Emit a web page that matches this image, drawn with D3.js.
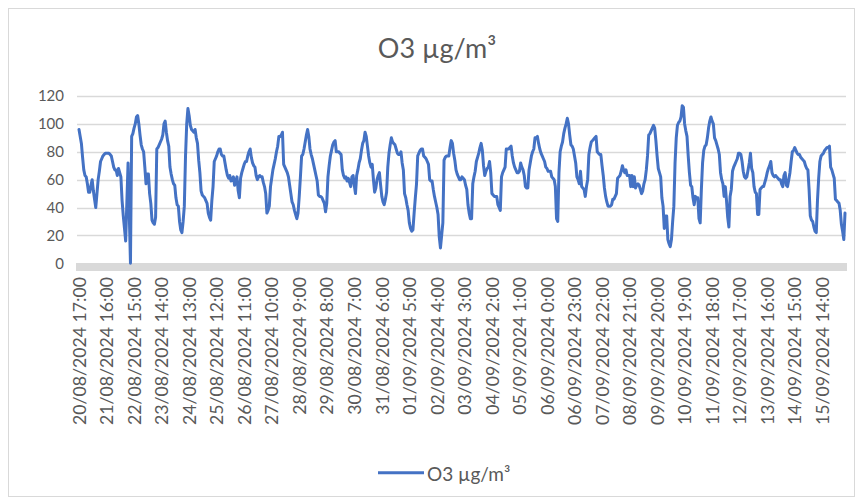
<!DOCTYPE html>
<html>
<head>
<meta charset="utf-8">
<script src="https://cdn.jsdelivr.net/npm/d3@7/dist/d3.min.js"></script>
<style>
  body { margin: 0; background: #ffffff; }
  svg { display: block; }
  text { font-family: Lato, "Open Sans", sans-serif; fill: #595959; }
</style>
</head>
<body>
<script>
// ---- data ----
const seriesName = "O3 µg/m³";
const startTime = "2024-08-20T17:00:00Z"; // first hourly category
const o3Values = [
  96,91,86,76,67,63,62,57,51,51,56,60,52,46,40,50,60,66,73,75,
  77,78,79,79,79,79,78,77,73,69,67,67,63,68,65,62,45,34,25,16,
  44,72,36,0,91,93,97,100,105,106,100,92,85,82,80,69,57,64,64,50,
  43,31,29,28,33,82,83,85,87,89,92,100,102,94,88,84,69,64,60,57,
  56,47,42,41,30,24,22,30,41,77,100,111,106,99,96,95,94,96,90,86,
  74,65,52,49,48,47,45,43,36,33,31,45,55,73,75,77,80,82,82,78,
  77,77,72,67,63,61,63,59,60,62,56,59,62,52,47,61,65,68,71,73,
  73,77,80,82,76,72,70,69,63,60,62,63,62,62,58,55,50,36,38,41,
  55,61,67,71,75,80,84,91,91,92,94,71,69,67,65,62,56,50,44,42,
  38,35,32,36,48,62,77,78,82,87,92,96,91,82,78,75,71,67,63,59,
  49,48,48,47,45,43,37,43,62,70,77,81,85,87,88,80,80,80,79,78,
  67,63,61,62,59,61,58,55,62,63,56,50,63,67,72,75,81,86,88,94,
  91,84,77,72,69,71,60,51,54,60,63,65,56,48,44,42,46,51,69,79,
  85,90,87,86,85,82,79,78,78,80,72,67,50,47,42,38,29,25,23,24,
  36,47,57,77,79,81,82,82,77,76,75,73,71,60,59,59,53,48,44,40,
  35,19,11,20,29,74,76,77,77,77,83,88,86,79,74,67,64,62,60,60,
  62,61,60,56,53,42,36,32,32,57,62,66,73,76,79,83,86,81,70,63,
  66,68,69,73,65,50,49,48,48,48,42,40,38,62,65,67,69,82,82,82,
  83,84,77,72,69,67,65,65,66,72,69,67,63,55,54,54,67,72,77,80,
  82,90,90,91,86,82,79,77,75,73,69,68,66,66,66,62,61,60,55,32,
  30,65,80,84,87,93,97,100,104,100,92,85,84,82,77,72,62,60,57,66,
  55,54,53,48,55,60,78,83,87,88,89,90,91,80,79,78,78,70,63,54,
  48,44,41,41,41,42,46,46,48,50,61,62,63,66,70,67,65,67,63,63,
  63,55,63,55,62,54,56,57,56,53,50,52,57,60,67,77,92,93,95,97,
  99,97,88,77,68,65,62,47,41,25,34,34,17,14,12,17,30,41,72,90,
  99,101,102,105,113,112,100,95,91,77,65,56,55,47,42,48,47,47,32,29,
  53,72,81,84,85,90,97,102,105,102,100,90,88,85,82,78,65,60,57,48,
  55,45,33,26,48,53,66,69,71,73,75,79,79,78,73,66,62,61,62,67,
  72,79,68,65,55,51,50,35,35,53,54,55,55,58,61,65,68,70,73,65,
  63,62,63,62,61,60,60,57,55,63,65,56,55,60,65,73,80,81,83,81,
  79,78,78,76,75,74,73,70,68,67,53,34,31,30,26,23,22,45,61,73,
  77,78,79,81,82,83,83,84,69,67,64,61,46,45,44,43,38,28,23,17,36
];
const xTickLabels = [
  "20/08/2024 17:00","21/08/2024 16:00","22/08/2024 15:00","23/08/2024 14:00",
  "24/08/2024 13:00","25/08/2024 12:00","26/08/2024 11:00","27/08/2024 10:00",
  "28/08/2024 9:00","29/08/2024 8:00","30/08/2024 7:00","31/08/2024 6:00",
  "01/09/2024 5:00","02/09/2024 4:00","03/09/2024 3:00","04/09/2024 2:00",
  "05/09/2024 1:00","06/09/2024 0:00","06/09/2024 23:00","07/09/2024 22:00",
  "08/09/2024 21:00","09/09/2024 20:00","10/09/2024 19:00","11/09/2024 18:00",
  "12/09/2024 17:00","13/09/2024 16:00","14/09/2024 15:00","15/09/2024 14:00"
];
const yTicks = [0, 20, 40, 60, 80, 100, 120];

// categories: hourly timestamps
const fmt = d3.utcFormat("%d/%m/%Y %-H:00");
const t0 = new Date(startTime);
const categories = o3Values.map((v, i) => fmt(d3.utcHour.offset(t0, i)));
const data = categories.map((c, i) => ({ c, v: o3Values[i] }));

// ---- layout ----
const W = 862, H = 504;
const svg = d3.select("body").append("svg").attr("width", W).attr("height", H);

svg.append("rect").attr("x", 8.5).attr("y", 8.5).attr("width", 846).attr("height", 488)
  .attr("fill", "#fff").attr("stroke", "#d9d9d9").attr("stroke-width", 1);

const plotL = 77, plotR = 846;
const x = d3.scalePoint().domain(categories).range([79, 845]);
const y = d3.scaleLinear().domain([0, 120]).range([263.3, 96]);

// title
svg.append("text").attr("x", 437).attr("y", 47).attr("text-anchor", "middle")
  .attr("dominant-baseline", "central").style("font-size", "27px").text(seriesName);

// gridlines
svg.append("g").selectAll("line").data(yTicks.filter(d => d > 0)).join("line")
  .attr("x1", plotL).attr("x2", plotR)
  .attr("y1", d => Math.round(y(d)) + 0.5).attr("y2", d => Math.round(y(d)) + 0.5)
  .attr("stroke", "#d9d9d9").attr("stroke-width", 1.5);

// thick category axis line
svg.append("line").attr("x1", plotL - 1).attr("x2", plotR + 1)
  .attr("y1", 267).attr("y2", 267).attr("stroke", "#d9d9d9").attr("stroke-width", 8);

// y axis labels
const yAxis = svg.append("g").attr("transform", `translate(${plotL},0)`)
  .call(d3.axisLeft(y).tickValues(yTicks).tickSize(0).tickPadding(13));
yAxis.select(".domain").remove();
yAxis.selectAll("text").style("font-size", "15px").attr("fill", "#595959");

// x axis labels
const tickSet = new Set(xTickLabels);
const xAxis = svg.append("g").attr("transform", "translate(0,271)")
  .call(d3.axisBottom(x).tickValues(categories.filter(c => tickSet.has(c))).tickSize(0));
xAxis.select(".domain").remove();
xAxis.selectAll("text")
  .attr("transform", "rotate(-90)")
  .attr("text-anchor", "end")
  .attr("x", -6).attr("y", 0).attr("dy", "0.35em")
  .style("font-size", "17.7px").attr("fill", "#595959");

// line
const line = d3.line().x(d => x(d.c)).y(d => y(d.v)).curve(d3.curveLinear);
svg.append("path").datum(data).attr("d", line)
  .attr("fill", "none").attr("stroke", "#4472C4").attr("stroke-width", 3)
  .attr("stroke-linejoin", "round").attr("stroke-linecap", "round");

// legend
svg.append("line").attr("x1", 378).attr("x2", 424).attr("y1", 472.7).attr("y2", 472.7)
  .attr("stroke", "#4472C4").attr("stroke-width", 3);
svg.append("text").attr("x", 427).attr("y", 473).attr("dominant-baseline", "central")
  .style("font-size", "19px").text(seriesName);
</script>
</body>
</html>
